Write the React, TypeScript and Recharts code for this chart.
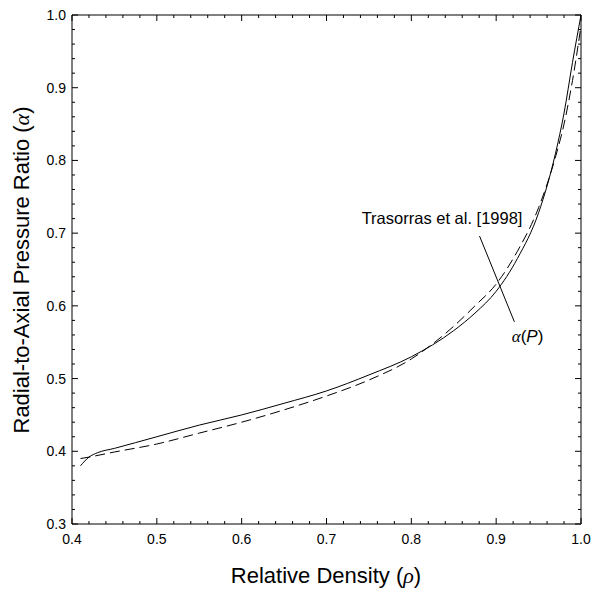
import { LineChart, Line, XAxis, YAxis, ReferenceLine, ReferenceDot } from 'recharts';

// alpha(P) model curve (solid)
const alphaPX = [0.41, 0.42, 0.43, 0.45, 0.5, 0.55, 0.6, 0.65, 0.7, 0.75, 0.8, 0.85, 0.875, 0.9, 0.925, 0.95, 0.97, 0.98, 0.99, 1.0];
const alphaPY = [0.38, 0.392, 0.398, 0.404, 0.42, 0.436, 0.45, 0.466, 0.483, 0.505, 0.53, 0.566, 0.59, 0.62, 0.665, 0.728, 0.81, 0.865, 0.935, 1.0];

// Trasorras et al. [1998] (dashed)
const trasX = [0.41, 0.42, 0.45, 0.5, 0.55, 0.6, 0.65, 0.7, 0.75, 0.8, 0.85, 0.875, 0.9, 0.925, 0.95, 0.97, 0.98, 0.99, 1.0];
const trasY = [0.39, 0.392, 0.399, 0.41, 0.425, 0.44, 0.457, 0.476, 0.498, 0.527, 0.572, 0.6, 0.63, 0.675, 0.735, 0.805, 0.85, 0.91, 0.985];

const xTicks = [0.4, 0.42, 0.44, 0.46, 0.48, 0.5, 0.52, 0.54, 0.56, 0.58, 0.6, 0.62, 0.64, 0.66, 0.68, 0.7, 0.72, 0.74, 0.76, 0.78, 0.8, 0.82, 0.84, 0.86, 0.88, 0.9, 0.92, 0.94, 0.96, 0.98, 1.0];
const yTicks = [0.3, 0.32, 0.34, 0.36, 0.38, 0.4, 0.42, 0.44, 0.46, 0.48, 0.5, 0.52, 0.54, 0.56, 0.58, 0.6, 0.62, 0.64, 0.66, 0.68, 0.7, 0.72, 0.74, 0.76, 0.78, 0.8, 0.82, 0.84, 0.86, 0.88, 0.9, 0.92, 0.94, 0.96, 0.98, 1.0];

const alphaP = alphaPX.map((x, i) => ({ x, y: alphaPY[i] }));
const trasorras = trasX.map((x, i) => ({ x, y: trasY[i] }));

const FONT = 'Liberation Sans, Arial, sans-serif';
const SERIF = 'Liberation Serif, serif';
const isMajor = (v: number) => Math.abs(v * 10 - Math.round(v * 10)) < 1e-6;
const tickLen = (v: number) => (isMajor(v) ? 6 : 3);

// ticks point into the plot on all four sides
const BottomTick = (props: any) => {
  const x = Number(props.x);
  const y = Number(props.y);
  const v = props.payload.value;
  return (
    <g>
      <line x1={x} x2={x} y1={y} y2={y - tickLen(v)} stroke="#000" strokeWidth={1} />
      {isMajor(v) && (
        <text x={x} y={y + 20} textAnchor="middle" fontSize={14} fontFamily={FONT} fill="#000">
          {v.toFixed(1)}
        </text>
      )}
    </g>
  );
};

const TopTick = (props: any) => {
  const x = Number(props.x);
  const y = Number(props.y);
  return <line x1={x} x2={x} y1={y} y2={y + tickLen(props.payload.value)} stroke="#000" strokeWidth={1} />;
};

const LeftTick = (props: any) => {
  const x = Number(props.x);
  const y = Number(props.y);
  const v = props.payload.value;
  return (
    <g>
      <line x1={x} x2={x + tickLen(v)} y1={y} y2={y} stroke="#000" strokeWidth={1} />
      {isMajor(v) && (
        <text x={x - 6} y={y + 5} textAnchor="end" fontSize={14} fontFamily={FONT} fill="#000">
          {v.toFixed(1)}
        </text>
      )}
    </g>
  );
};

const RightTick = (props: any) => {
  const x = Number(props.x);
  const y = Number(props.y);
  return <line x1={x} x2={x - tickLen(props.payload.value)} y1={y} y2={y} stroke="#000" strokeWidth={1} />;
};

export default function App() {
  return (
    <div style={{ position: 'absolute', left: 0, top: 0, width: 593, height: 592, background: '#fff' }}>
      <LineChart width={593} height={592} margin={{ top: 14, right: 11, left: 0, bottom: 0 }}>
        <XAxis
          dataKey="x"
          type="number"
          domain={[0.4, 1.0]}
          ticks={xTicks}
          interval={0}
          allowDataOverflow
          height={68}
          tickSize={0}
          tickMargin={0}
          tickLine={false}
          axisLine={{ stroke: '#000' }}
          tick={<BottomTick />}
        />
        <XAxis
          xAxisId="top"
          orientation="top"
          dataKey="x"
          type="number"
          domain={[0.4, 1.0]}
          ticks={xTicks}
          interval={0}
          allowDataOverflow
          height={1}
          tickSize={0}
          tickMargin={0}
          tickLine={false}
          axisLine={{ stroke: '#000' }}
          tick={<TopTick />}
        />
        <YAxis
          type="number"
          domain={[0.3, 1.0]}
          ticks={yTicks}
          interval={0}
          allowDataOverflow
          width={72}
          tickSize={0}
          tickMargin={0}
          tickLine={false}
          axisLine={{ stroke: '#000' }}
          tick={<LeftTick />}
        />
        <YAxis
          yAxisId="right"
          orientation="right"
          type="number"
          domain={[0.3, 1.0]}
          ticks={yTicks}
          interval={0}
          allowDataOverflow
          width={1}
          tickSize={0}
          tickMargin={0}
          tickLine={false}
          axisLine={{ stroke: '#000' }}
          tick={<RightTick />}
        />
        <Line
          data={trasorras}
          dataKey="y"
          xAxisId="top"
          yAxisId="right"
          type="monotone"
          stroke="#000"
          strokeWidth={1}
          strokeDasharray="10 5"
          dot={false}
          isAnimationActive={false}
        />
        <Line data={alphaP} dataKey="y" type="monotone" stroke="#000" strokeWidth={1} dot={false} isAnimationActive={false} />
        <ReferenceLine
          segment={[
            { x: 0.8804, y: 0.696 },
            { x: 0.9215, y: 0.578 },
          ]}
          stroke="#000"
          strokeWidth={1}
        />
        <ReferenceDot
          x={0.931}
          y={0.7195}
          r={0}
          stroke="none"
          label={(p: any) => (
            <text x={p.viewBox.x} y={p.viewBox.y + 5} textAnchor="end" fontSize={16.5} fontFamily={FONT} fill="#000">
              Trasorras et al. [1998]
            </text>
          )}
        />
        <ReferenceDot
          x={0.937}
          y={0.5586}
          r={0}
          stroke="none"
          label={(p: any) => (
            <text x={p.viewBox.x} y={p.viewBox.y + 6} textAnchor="middle" fontSize={17} fontFamily={FONT} fill="#000">
              <tspan fontStyle="italic" fontFamily={SERIF}>α</tspan>(<tspan fontStyle="italic">P</tspan>)
            </text>
          )}
        />
      </LineChart>
      {/* axis titles */}
      <svg width={593} height={592} style={{ position: 'absolute', left: 0, top: 0, pointerEvents: 'none' }}>
        <text x={326} y={583} textAnchor="middle" fontSize={22} fontFamily={FONT} fill="#000">
          Relative Density (<tspan fontStyle="italic" fontFamily={SERIF}>ρ</tspan>)
        </text>
        <text x={29} y={270} transform="rotate(-90, 29, 270)" textAnchor="middle" fontSize={22} fontFamily={FONT} fill="#000">
          Radial-to-Axial Pressure Ratio (<tspan fontStyle="italic" fontFamily={SERIF}>α</tspan>)
        </text>
      </svg>
    </div>
  );
}
